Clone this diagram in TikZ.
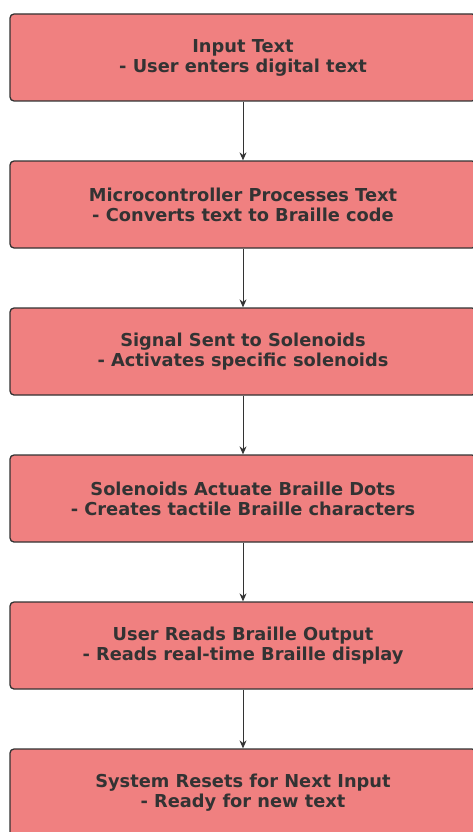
\documentclass[tikz,border=0pt]{standalone}
\usepackage{fontspec}
\setmainfont{DejaVu Sans}
\usetikzlibrary{arrows.meta}
\definecolor{boxfill}{HTML}{F08080}
\definecolor{ink}{HTML}{333333}
\begin{document}
\begin{tikzpicture}[x=1pt,y=-1pt,
  flowbox/.style={draw=ink, line width=1.3pt, fill=boxfill, rounded corners=4pt,
    minimum width=466pt, minimum height=87pt, align=center, text=ink,
    font=\fontsize{17.8}{20}\selectfont\bfseries, inner sep=0pt},
  flowarrow/.style={draw=ink, line width=1pt, -{Stealth[length=8pt,width=7pt]}}]
\useasboundingbox (0,0) rectangle (472,832);
\node[flowbox] (b1) at (243,57.5) {Input Text\\- User enters digital text};
\node[flowbox] (b2) at (243,204.5) {Microcontroller Processes Text\\- Converts text to Braille code};
\node[flowbox] (b3) at (243,351.5) {Signal Sent to Solenoids\\- Activates specific solenoids};
\node[flowbox] (b4) at (243,498.5) {Solenoids Actuate Braille Dots\\- Creates tactile Braille characters};
\node[flowbox] (b5) at (243,645.5) {User Reads Braille Output\\- Reads real-time Braille display};
\node[flowbox] (b6) at (243,792.5) {System Resets for Next Input\\- Ready for new text};
\draw[flowarrow] (b1) -- (b2);
\draw[flowarrow] (b2) -- (b3);
\draw[flowarrow] (b3) -- (b4);
\draw[flowarrow] (b4) -- (b5);
\draw[flowarrow] (b5) -- (b6);
\end{tikzpicture}
\end{document}
